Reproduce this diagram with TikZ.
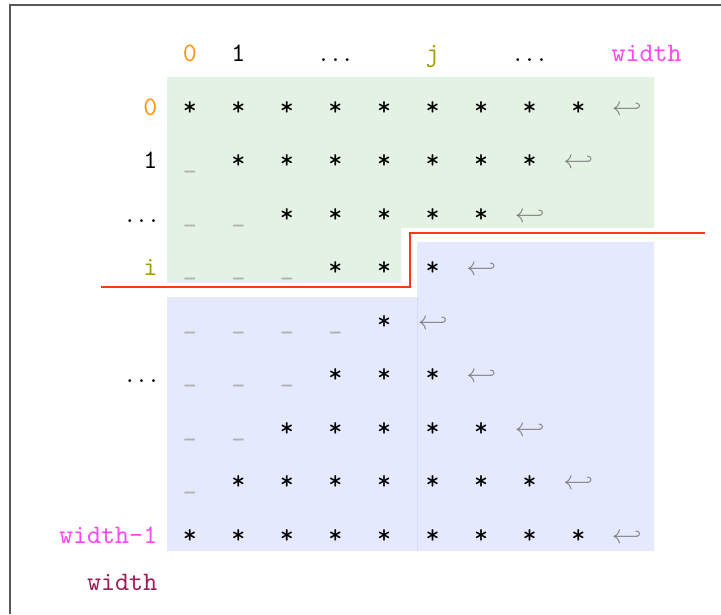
\documentclass[tikz,border=0pt]{standalone}
\usepackage{amssymb}
\definecolor{idxorange}{RGB}{255,150,20}
\definecolor{idxolive}{RGB}{160,160,0}
\definecolor{idxmagenta}{RGB}{255,70,245}
\definecolor{idxpurple}{RGB}{155,30,90}
\definecolor{cutred}{RGB}{255,55,20}
\definecolor{topfill}{RGB}{228,242,228}
\definecolor{botfill}{RGB}{228,233,253}
\tikzset{
  cell/.style={inner sep=0pt, text height=1.5ex, text depth=.25ex, font=\ttfamily},
  star/.style={cell},
  under/.style={cell, text=gray!60},
  ret/.style={cell, text=gray},
  lbl/.style={cell, anchor=east}
}
\begin{document}
\begin{tikzpicture}[x=18.2pt,y=20.06pt]
    \useasboundingbox (-3.91,-9.46) rectangle (10.94,2.02);

    % Frame
    \draw[gray!70!black, line width=0.6pt] (-3.71,-9.46) -- (-3.71,1.93) -- (10.94,1.93);

    % Upper and lower triangles
    \fill[topfill] (-0.47,0.58) -- (9.56,0.58) -- (9.56,-2.24) -- (4.35,-2.24)
        -- (4.35,-3.27) -- (-0.47,-3.27) -- cycle;
    \fill[botfill] (4.68,-2.5) -- (9.56,-2.5) -- (9.56,-8.28) -- (-0.47,-8.28)
        -- (-0.47,-3.53) -- (4.68,-3.53) -- cycle;
    \draw[blue!15] (4.68,-3.53) -- (4.68,-8.28);

    % Cut line
    \draw[cutred, line width=0.8pt] (-1.83,-3.35) -- (4.53,-3.35) -- (4.53,-2.34) -- (10.61,-2.34);

    % Column indices
    \node[cell, text=idxorange] (h0) at (0,1) {0};
    \node[cell] (h1) at (1,1) {1};
    \node[cell] (hd1) at (3,1) {$\dots$};
    \node[cell, text=idxolive] (hj) at (5,1) {j};
    \node[cell] (hd2) at (7,1) {$\dots$};
    \node[cell, text=idxmagenta] (hw) at (9.41,1) {width};

    % Row indices
    \node[lbl, text=idxorange] (r0) at (-0.66,0) {0};
    \node[lbl] (r1) at (-0.66,-1) {1};
    \node[lbl] (r2) at (-0.66,-2) {$\dots$};
    \node[lbl, text=idxolive] (ri) at (-0.66,-3) {i};
    \node[lbl] (r5) at (-0.66,-5) {$\dots$};
    \node[lbl, text=idxmagenta] (rw1) at (-0.66,-8) {width-1};
    \node[lbl, text=idxpurple] (rw) at (-0.66,-8.88) {width};

    % Cells
    \foreach \r/\u in {0/0,1/1,2/2,3/3,4/4,5/3,6/2,7/1,8/0} {
        \foreach \c in {0,...,8} {
            \ifnum\c<\u
                \node[under] (c-\r-\c) at (\c,-\r) {\_};
            \else
                \ifnum\c<\numexpr9-\u\relax
                    \node[star] (c-\r-\c) at (\c,-\r) {*};
                \fi
            \fi
        }
        \pgfmathtruncatemacro{\e}{9-\u}
        \node[ret] (e-\r) at (\e,-\r) {$\hookleftarrow$};
    }
\end{tikzpicture}
\end{document}
